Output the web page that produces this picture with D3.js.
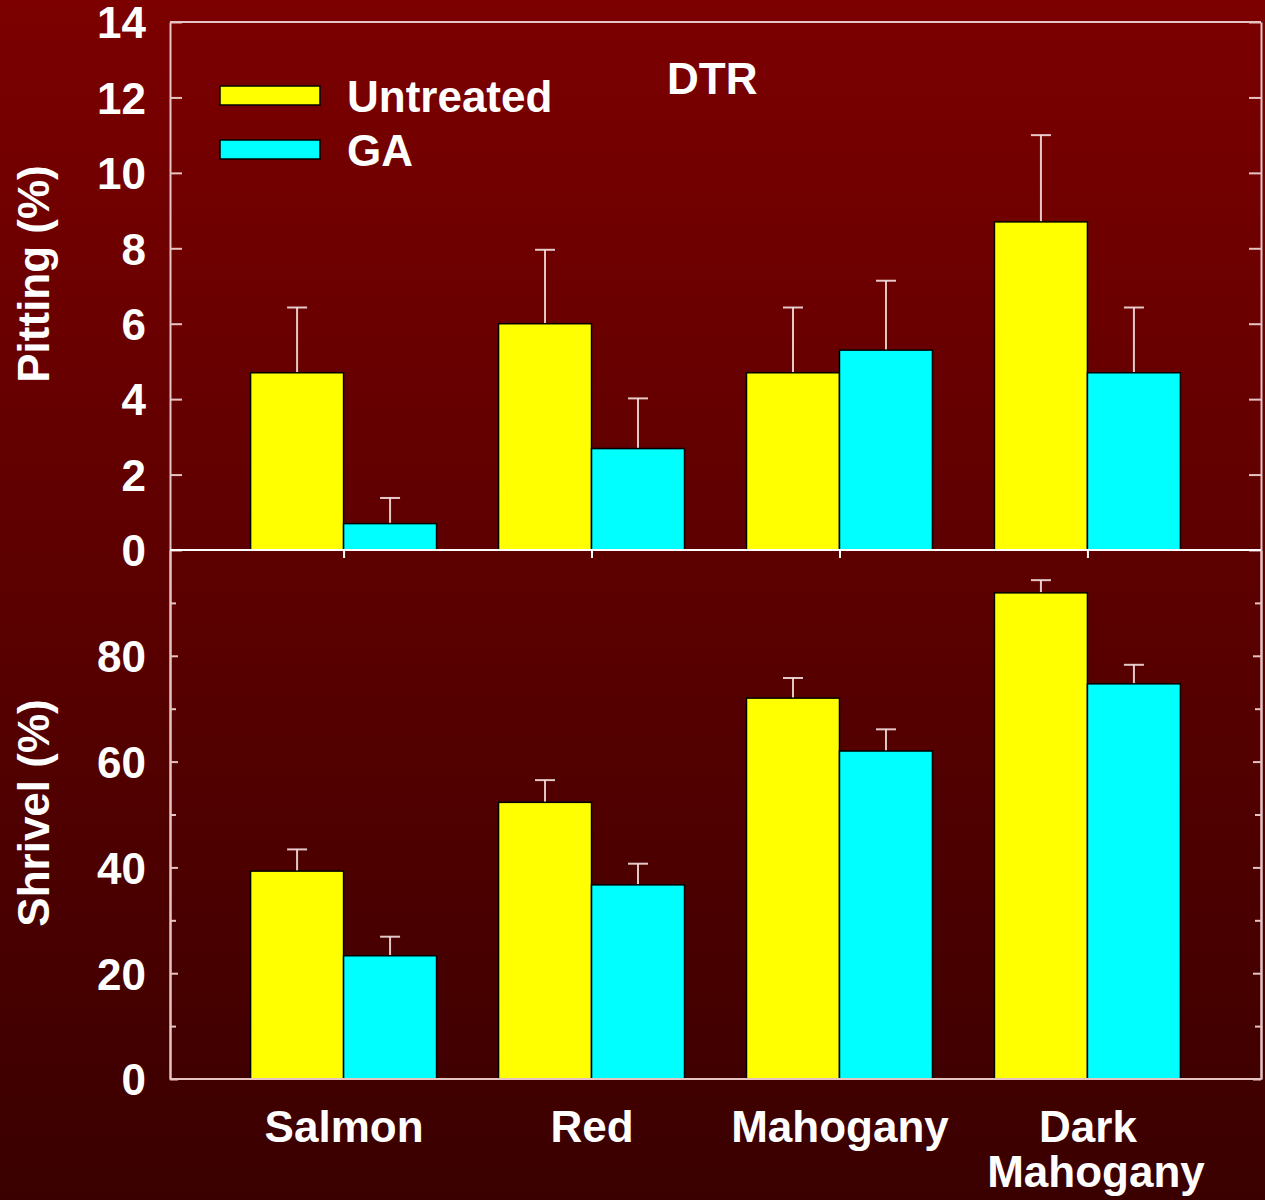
<!DOCTYPE html>
<html>
<head>
<meta charset="utf-8">
<script src="https://cdn.jsdelivr.net/npm/d3@7"></script>
<style>
  html, body { margin: 0; padding: 0; background: #3a0000; }
  svg { display: block; }
  text { font-family: "Liberation Sans", Arial, sans-serif; font-weight: bold; fill: #ffffff; }
</style>
</head>
<body>
<svg id="chart" width="1265" height="1200"></svg>
<script>
// ---- data ----
const categories = ["Salmon", "Red", "Mahogany", "Dark Mahogany"];
const series = ["Untreated", "GA"];
const pittingUntreated = [4.7, 6.0, 4.7, 8.7];
const pittingUntreatedErr = [1.73, 1.96, 1.73, 2.3];
const pittingGA = [0.7, 2.69, 5.3, 4.7];
const pittingGAErr = [0.68, 1.33, 1.84, 1.73];
const shrivelUntreated = [39.3, 52.3, 72.0, 91.9];
const shrivelUntreatedErr = [4.1, 4.2, 3.8, 2.4];
const shrivelGA = [23.3, 36.7, 62.0, 74.7];
const shrivelGAErr = [3.6, 4.0, 4.1, 3.6];
const pittingTicks = [0, 2, 4, 6, 8, 10, 12, 14];
const shrivelMajorTicks = [0, 20, 40, 60, 80];
const shrivelMinorTicks = [10, 30, 50, 70, 90];
const colors = { "Untreated": "#ffff00", "GA": "#00ffff" };
const titleText = "DTR";

(function () {
// ---- layout ----
const svg = d3.select("#chart");
const W = 1265, H = 1200;
const pLeft = 170, pRight = 1261, pTop = 22, pMid = 550, pBottom = 1079;
const frameColor = "#e6c4c4";

const defs = svg.append("defs");
const grad = defs.append("linearGradient").attr("id", "bg").attr("x1", 0).attr("y1", 0).attr("x2", 0).attr("y2", 1);
grad.append("stop").attr("offset", "0%").attr("stop-color", "#7c0000");
grad.append("stop").attr("offset", "100%").attr("stop-color", "#3a0000");
svg.append("rect").attr("width", W).attr("height", H).attr("fill", "url(#bg)");

const x = d3.scalePoint().domain(categories).range([pLeft, pRight]).padding(0.7);
const bw = x.step() * 0.375;
const xs = d3.scaleBand().domain(series).range([-bw, bw]).paddingInner(0).paddingOuter(0);

const yTop = d3.scaleLinear().domain([0, 14]).range([pMid, pTop]);
const yBot = d3.scaleLinear().domain([0, 100]).range([pBottom, pMid]);

function rows(u, ue, g, ge) {
  const out = [];
  categories.forEach((c, i) => {
    out.push({ cat: c, s: "Untreated", v: u[i], e: ue[i] });
    out.push({ cat: c, s: "GA", v: g[i], e: ge[i] });
  });
  return out;
}
const topData = rows(pittingUntreated, pittingUntreatedErr, pittingGA, pittingGAErr);
const botData = rows(shrivelUntreated, shrivelUntreatedErr, shrivelGA, shrivelGAErr);

function drawPanel(data, y) {
  const g = svg.append("g");
  const eb = g.selectAll("g.err").data(data).join("g").attr("class", "err")
    .attr("stroke", "#f4dede").attr("stroke-width", 2).attr("stroke-opacity", 0.9);
  eb.append("line")
    .attr("x1", d => x(d.cat) + xs(d.s) + xs.bandwidth() / 2)
    .attr("x2", d => x(d.cat) + xs(d.s) + xs.bandwidth() / 2)
    .attr("y1", d => y(d.v))
    .attr("y2", d => y(d.v + d.e));
  eb.append("line")
    .attr("x1", d => x(d.cat) + xs(d.s) + xs.bandwidth() / 2 - 10)
    .attr("x2", d => x(d.cat) + xs(d.s) + xs.bandwidth() / 2 + 10)
    .attr("y1", d => y(d.v + d.e))
    .attr("y2", d => y(d.v + d.e));
  g.selectAll("rect").data(data).join("rect")
    .attr("x", d => x(d.cat) + xs(d.s))
    .attr("y", d => y(d.v))
    .attr("width", xs.bandwidth())
    .attr("height", d => y(0) - y(d.v))
    .attr("fill", d => colors[d.s])
    .attr("stroke", "#000")
    .attr("stroke-width", 1.5);
}
drawPanel(topData, yTop);
drawPanel(botData, yBot);

function styleAxis(sel, color) {
  sel.selectAll("path, line").attr("stroke", color).attr("stroke-width", 2);
  sel.selectAll("text").attr("font-size", 44).attr("fill", "#fff").attr("dy", "0.36em")
    .style("font-family", '"Liberation Sans", Arial, sans-serif').style("font-weight", "bold");
}

const aTL = svg.append("g").attr("transform", `translate(${pLeft},0)`)
  .call(d3.axisLeft(yTop).tickValues(pittingTicks).tickFormat(d3.format("d"))
    .tickSizeInner(-12).tickSizeOuter(0).tickPadding(24));
styleAxis(aTL, frameColor);
const aTR = svg.append("g").attr("transform", `translate(${pRight},0)`)
  .call(d3.axisRight(yTop).tickValues(pittingTicks).tickFormat("")
    .tickSizeInner(-12).tickSizeOuter(0));
styleAxis(aTR, frameColor);

const aBLm = svg.append("g").attr("transform", `translate(${pLeft},0)`)
  .call(d3.axisLeft(yBot).tickValues(shrivelMinorTicks).tickFormat("")
    .tickSizeInner(-6).tickSizeOuter(0));
styleAxis(aBLm, frameColor);
const aBL = svg.append("g").attr("transform", `translate(${pLeft},0)`)
  .call(d3.axisLeft(yBot).tickValues(shrivelMajorTicks).tickFormat(d3.format("d"))
    .tickSizeInner(-8).tickSizeOuter(0).tickPadding(24));
styleAxis(aBL, frameColor);
const aBRm = svg.append("g").attr("transform", `translate(${pRight},0)`)
  .call(d3.axisRight(yBot).tickValues(shrivelMinorTicks).tickFormat("")
    .tickSizeInner(-6).tickSizeOuter(0));
styleAxis(aBRm, frameColor);
const aBR = svg.append("g").attr("transform", `translate(${pRight},0)`)
  .call(d3.axisRight(yBot).tickValues(shrivelMajorTicks).tickFormat("")
    .tickSizeInner(-8).tickSizeOuter(0));
styleAxis(aBR, frameColor);

const aTop = svg.append("g").attr("transform", `translate(0,${pTop})`)
  .call(d3.axisTop(x).tickValues([]).tickSizeOuter(0));
aTop.select(".domain").attr("d", `M${pLeft},0H${pRight}`);
styleAxis(aTop, frameColor);

const aMid = svg.append("g").attr("transform", `translate(0,${pMid})`)
  .call(d3.axisBottom(x).tickFormat("").tickSizeInner(8).tickSizeOuter(0));
aMid.select(".domain").attr("d", `M${pLeft},0H${pRight}`);
styleAxis(aMid, "#ffffff");

const aBot = svg.append("g").attr("transform", `translate(0,${pBottom})`)
  .call(d3.axisBottom(x).tickSizeInner(0).tickSizeOuter(0).tickPadding(0).tickFormat(""));
aBot.select(".domain").attr("d", `M${pLeft},0H${pRight}`);
styleAxis(aBot, frameColor);
aBot.selectAll(".tick").each(function(d) {
  const t = d3.select(this).append("text")
    .attr("text-anchor", "middle").attr("font-size", 44).attr("fill", "#fff");
  const words = d.split(" ");
  if (words.length > 1) {
    t.append("tspan").attr("x", 0).attr("y", 63).text(words[0]);
    t.append("tspan").attr("x", 8).attr("y", 108).text(words.slice(1).join(" "));
  } else {
    t.append("tspan").attr("x", 0).attr("y", 63).text(d);
  }
});

svg.append("text").attr("transform", "translate(49,274) rotate(-90)")
  .attr("text-anchor", "middle").attr("font-size", 44).text("Pitting (%)");
svg.append("text").attr("transform", "translate(49,813) rotate(-90)")
  .attr("text-anchor", "middle").attr("font-size", 44).text("Shrivel (%)");

svg.append("text").attr("x", 667).attr("y", 94).attr("font-size", 44).text(titleText);

const legendY = [86, 140];
series.forEach((s, i) => {
  svg.append("rect").attr("x", 220).attr("y", legendY[i]).attr("width", 100).attr("height", 19)
    .attr("fill", colors[s]).attr("stroke", "#000").attr("stroke-width", 1.5);
  svg.append("text").attr("x", 347).attr("y", legendY[i] + 26).attr("font-size", 44).text(s);
});
})();
</script>
</body>
</html>
